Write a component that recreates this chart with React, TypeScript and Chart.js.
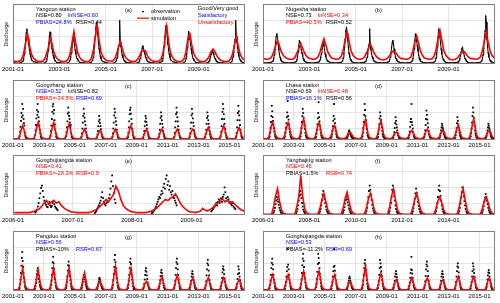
import React, { useEffect, useRef } from "react";
import { Chart, registerables } from "chart.js";
Chart.register(...registerables);

const FONT = "'Liberation Sans', Arial, sans-serif";

// observation sample positions within a year (months, 0-based)
const obsSlots = [0.5, 2.5, 4.5, 5.17, 5.5, 5.83, 6.17, 6.5, 6.83, 7.17, 7.5, 7.83, 8.17, 8.5, 8.83, 9.17, 9.5, 9.83, 10.5, 11.5];
const denseSlots = [4.0, 4.17, 4.33, 4.5, 4.67, 4.83, 5.0, 5.17, 5.33, 5.5, 5.67, 5.83, 6.0, 6.17, 6.33, 6.5, 6.67, 6.83, 7.0, 7.17, 7.33, 7.5, 7.67, 7.83, 8.0, 8.17, 8.33, 8.5, 8.67, 8.83, 9.0, 9.17, 9.33, 9.5, 9.67, 9.83];

const ticks2001to2009 = [2001, 2003, 2005, 2007, 2009];
const ticks2001to2015 = [2001, 2003, 2005, 2007, 2009, 2011, 2013, 2015];
const ticks2006to2009 = [2006, 2007, 2008, 2009];
const ticks2006to2014 = [2006, 2008, 2010, 2012, 2014];

// (a) Yangcun 2001-2010
const yangcunSim = [
  5,4,4,5,8,18,34,50,31,17,10,7,
  5,4,4,5,9,19,30,44,28,16,10,7,
  5,4,4,5,8,17,35,54,34,18,11,7,
  5,4,4,5,9,22,45,65,40,20,12,8,
  6,5,5,5,8,16,28,38,26,15,10,7,
  5,4,4,5,8,14,21,23,22,14,9,6,
  5,4,4,5,8,17,39,62,36,18,11,7,
  5,4,4,5,9,21,43,50,31,17,11,7,
  5,4,4,5,8,13,21,25,20,13,9,6,
  5,4,4,5,8,16,31,47,30,16,10,7,
];
const yangcunObs = [
  2,1,3, 5,9,16, 26,40,52, 58,50,42, 32,24,17, 12,8,6, 4,3,
  2,1,2, 4,8,13, 22,34,46, 53,42,34, 26,19,14, 10,7,5, 3,2,
  2,1,2, 4,7,12, 18,28,37, 44,38,31, 23,17,12, 9,7,5, 3,2,
  2,1,3, 6,11,19, 31,46,60, 69,62,50, 37,26,19, 13,9,6, 4,3,
  2,1,2, 4,6,10, 17,25,31, 72,36,29, 21,15,11, 8,6,4, 3,2,
  2,1,2, 3,6,9, 15,21,27, 30,25,21, 17,13,10, 7,5,4, 3,2,
  2,1,3, 5,9,16, 28,43,56, 64,57,45, 33,23,16, 11,8,6, 4,3,
  2,1,2, 5,9,16, 27,41,54, 49,41,33, 25,18,13, 9,7,5, 3,2,
  2,1,2, 3,5,8, 12,16,20, 22,19,16, 12,9,7, 5,4,3, 2,2,
  2,1,2, 4,7,12, 20,31,41, 72,46,37, 27,19,13, 9,7,5, 3,2,
];

// (b) Nugesha 2001-2010
const nugeshaSim = [
  9,8,8,9,12,20,30,39,30,20,14,11,
  9,8,8,8,11,18,26,33,26,18,13,10,
  9,8,8,9,12,20,32,42,32,20,14,10,
  9,8,8,9,13,24,40,53,38,22,15,11,
  9,8,8,9,12,18,26,33,26,18,13,10,
  8,7,7,8,10,14,19,22,19,15,11,9,
  9,8,8,9,12,22,36,47,34,21,14,10,
  9,8,8,9,13,24,42,56,40,23,15,11,
  8,7,7,8,10,14,18,22,19,14,11,9,
  9,8,8,9,12,22,38,53,36,21,14,10,
];
const nugeshaObs = [
  2,2,3, 5,9,15, 24,36,46, 50,42,34, 24,16,11, 7,5,4, 3,2,
  2,2,3, 4,7,12, 20,30,39, 36,30,24, 18,13,9, 6,5,4, 3,2,
  2,2,3, 4,7,11, 17,25,32, 36,30,24, 17,12,9, 6,5,4, 3,2,
  2,2,3, 5,10,17, 28,42,55, 61,52,40, 28,18,12, 8,6,4, 3,2,
  2,2,3, 4,7,11, 18,26,33, 58,30,24, 17,12,9, 6,5,4, 3,2,
  2,2,3, 4,7,11, 18,28,35, 39,32,25, 18,12,9, 6,5,4, 3,2,
  2,2,3, 5,9,15, 25,38,50, 46,38,30, 22,15,10, 7,5,4, 3,2,
  2,2,3, 5,10,17, 28,44,58, 54,45,35, 25,17,12, 8,6,4, 3,2,
  2,2,3, 3,6,9, 14,20,25, 28,22,18, 13,9,7, 5,4,3, 2,2,
  2,2,3, 5,9,15, 26,40,55, 80,70,42, 28,18,12, 8,6,4, 3,2,
];

// (c) Gongzhang 2001-2015
const gongzhangSim = [
  2,2,2,2,4,10,18,24,17,8,4,3,
  2,2,2,2,4,11,22,29,20,9,4,3,
  2,2,2,2,4,11,21,29,19,9,4,3,
  2,2,2,2,4,10,20,27,18,8,4,3,
  2,2,2,2,3,8,14,18,13,6,3,2,
  2,2,2,2,3,7,13,16,12,6,3,2,
  2,2,2,2,3,8,14,18,13,6,3,2,
  2,2,2,2,4,9,18,24,16,7,3,2,
  2,2,2,2,3,8,14,18,13,6,3,2,
  2,2,2,2,3,8,15,18,14,6,3,2,
  2,2,2,2,3,8,14,18,13,6,3,2,
  2,2,2,2,3,9,15,18,14,6,3,2,
  2,2,2,2,3,9,16,21,15,7,3,2,
  2,2,2,2,4,10,18,24,16,7,3,2,
  2,2,2,2,3,9,16,21,15,7,3,2,
];
const gongzhangObs = [
  1,1,2, 6,14,22, 32,45,38, 60,41,52, 35,28,24, 12,7,4, 2,1,
  1,1,2, 8,16,25, 36,50,42, 60,47,38, 31,24,17, 11,6,4, 2,1,
  1,1,2, 7,15,24, 35,47,56, 60,44,50, 33,26,17, 11,6,4, 2,1,
  1,1,2, 6,13,21, 31,44,54, 46,40,35, 29,22,25, 11,6,4, 2,1,
  1,1,2, 5,11,19, 29,40,52, 44,37,31, 25,19,13, 8,5,3, 2,1,
  1,1,2, 4,9,15, 23,31,40, 34,28,23, 18,13,9, 6,4,3, 2,1,
  1,1,2, 5,11,19, 29,41,52, 46,37,31, 25,17,12, 8,5,3, 2,1,
  1,1,2, 5,12,21, 31,43,50, 54,44,35, 27,19,13, 8,5,3, 2,1,
  1,1,2, 4,9,15, 23,31,40, 36,30,25, 19,13,9, 6,4,3, 2,1,
  1,1,2, 5,10,17, 27,37,46, 40,33,27, 21,15,10, 7,4,3, 2,1,
  1,1,2, 5,12,21, 31,43,54, 46,38,31, 23,17,11, 7,5,3, 2,1,
  1,1,2, 5,11,19, 29,41,52, 44,36,29, 23,16,10, 7,5,3, 2,1,
  1,1,2, 5,10,17, 27,37,46, 40,33,27, 21,15,10, 7,4,3, 2,1,
  1,1,2, 6,13,23, 35,47,60, 52,43,35, 27,19,12, 8,5,3, 2,1,
  1,1,2, 5,12,21, 33,45,57, 48,41,33, 25,17,11, 7,5,3, 2,1,
];

// (d) Lhasa 2001-2015
const lhasaSim = [
  3,2,2,3,5,14,24,29,20,9,5,3,
  3,2,2,3,6,15,23,29,21,10,5,3,
  3,2,2,3,6,16,28,35,24,11,5,3,
  3,2,2,3,5,14,24,29,20,9,5,3,
  3,2,2,3,5,12,20,24,17,8,4,3,
  3,2,2,3,4,8,12,13,11,6,4,3,
  3,2,2,3,5,14,27,35,22,10,5,3,
  3,2,2,3,6,15,26,32,22,10,5,3,
  3,2,2,3,4,8,12,13,11,6,4,3,
  3,2,2,3,4,9,14,16,13,7,4,3,
  3,2,2,3,4,9,15,18,14,7,4,3,
  3,2,2,3,4,9,14,16,13,7,4,3,
  3,2,2,3,5,12,20,24,17,8,4,3,
  3,2,2,3,6,15,27,35,23,10,5,3,
  3,2,2,3,4,9,14,16,13,7,4,3,
];
const lhasaObs = [
  2,1,3, 6,12,20, 30,40,57, 48,38,32, 26,20,14, 9,6,4, 3,2,
  2,1,3, 6,12,20, 28,38,46, 65,40,34, 26,19,13, 9,6,4, 3,2,
  2,1,3, 6,12,20, 30,40,52, 45,37,31, 24,18,12, 8,6,4, 3,2,
  2,1,3, 5,10,17, 26,36,45, 63,38,31, 24,17,12, 8,5,4, 3,2,
  2,1,3, 5,9,15, 23,32,40, 60,35,28, 21,15,10, 7,5,4, 3,2,
  2,1,2, 3,5,7, 10,13,16, 14,12,10, 8,6,5, 4,3,3, 2,2,
  2,1,3, 6,12,20, 30,42,60, 50,40,33, 25,18,12, 8,6,4, 3,2,
  2,1,3, 5,10,17, 26,36,46, 40,33,27, 21,15,10, 7,5,4, 3,2,
  2,1,2, 4,8,13, 20,28,38, 32,26,21, 16,12,8, 6,4,3, 2,2,
  2,1,2, 4,8,14, 22,30,35, 60,30,25, 19,13,9, 6,4,3, 2,2,
  2,1,3, 5,10,16, 25,35,49, 42,34,28, 21,15,10, 7,5,4, 3,2,
  2,1,2, 4,7,11, 16,21,27, 24,20,17, 13,10,7, 5,4,3, 2,2,
  2,1,2, 4,8,13, 20,28,38, 32,26,21, 16,12,8, 6,4,3, 2,2,
  2,1,3, 6,11,19, 29,40,54, 46,37,30, 23,16,11, 8,5,4, 3,2,
  2,1,2, 4,7,11, 16,21,27, 24,20,17, 13,10,7, 5,4,3, 2,2,
];

// (e) Gongbujiangda 2006-2009 (half-monthly simulation)
const gongbuSimE = [
  4,4,4,4,4,4,4,5,6,8,10,14,20,24,18,22,24,20,22,16,12,9,7,5,
  5,4,4,4,4,4,4,5,7,9,12,16,20,26,22,28,34,48,40,26,16,11,8,6,
  5,4,4,4,4,4,5,6,8,10,14,18,22,26,24,28,30,35,28,20,14,10,7,5,
  5,4,5,6,11,8,7,9,12,16,20,24,27,22,25,20,22,18,14,10,8,6,5,4,
];
const gongbuObsE = [
  null,null,null, 4,6,9, 14,20,28, 36,45,49, 40,30,24, 20,17,14, 13,18,22, 16,13,15, 20,24,18, 14,12,10, 8,null,null, null,null,null,
  null,null,null, 3,5,7, 10,13,16, 20,24,30, 38,28,22, 18,16,20, 24,22,28, 34,44,56, 66,48,36, 26,20,null, null,null,null, null,null,null,
  3,4,6, 8,11,14, 18,22,26, 30,28,34, 40,36,46, 52,44,60, 66,50,56, 42,48,38, 34,40,30, 28,24,20, 16,null,null, null,null,null,
  6,8,10, 12,14,17, 20,16,22, 26,20,24, 28,22,30, 34,46,38, 28,24,30, 26,20,22, 18,16,20, 14,12,10, null,null,null, null,null,null,
];

// (f) Yangbajing 2006-2015
const yangbajingSim = [
  1,1,1,1,2,14,32,44,24,9,3,2,
  1,1,1,1,2,14,30,66,32,11,4,2,
  1,1,1,1,2,12,26,36,22,9,3,2,
  1,1,1,1,2,12,28,38,22,9,3,2,
  1,1,1,1,2,12,27,36,24,9,3,2,
  1,1,1,1,2,14,32,44,26,10,3,2,
  1,1,1,1,2,12,27,36,22,9,3,2,
  1,1,1,1,2,11,24,30,20,8,3,2,
  1,1,1,1,2,14,32,44,26,10,3,2,
  1,1,1,1,2,11,24,30,20,8,3,2,
];
const yangbajingObs = [
  null,null,null, 2,4,7, 12,18,24, 30,26,22, 17,12,8, 5,3,2, null,null,
  null,null,null, 3,6,10, 16,24,32, 40,34,28, 20,14,9, 6,4,2, null,null,
  null,null,null, 3,6,10, 16,24,34, 40,32,26, 20,14,9, 6,4,2, null,null,
  null,null,null, 2,5,8, 13,19,25, 30,26,21, 16,11,8, 5,3,2, null,null,
  null,null,null, 3,7,12, 20,30,40, 49,42,34, 25,17,11, 7,4,2, null,null,
  null,null,null, 3,7,12, 20,30,42, 49,40,32, 24,16,10, 6,4,2, null,null,
  null,null,null, 3,6,11, 18,27,36, 44,37,30, 22,15,10, 6,4,2, null,null,
  null,null,null, 3,7,12, 20,30,42, 49,40,32, 24,16,10, 6,4,2, null,null,
  null,null,null, 3,7,12, 19,29,38, 46,39,31, 23,16,10, 6,4,2, null,null,
  null,null,null, 2,5,9, 15,22,29, 35,30,24, 18,12,8, 5,3,2, null,null,
];

// (g) Pangduo 2001-2015
const pangduoSim = [
  2,2,2,2,4,12,26,38,22,9,4,3,
  2,2,2,2,4,12,24,35,21,9,4,3,
  2,2,2,2,4,12,26,38,22,9,4,3,
  2,2,2,2,4,13,27,38,23,9,4,3,
  2,2,2,2,3,11,21,30,19,8,4,3,
  2,2,2,2,3,8,13,16,12,6,3,2,
  2,2,2,2,4,13,28,41,24,10,4,3,
  2,2,2,2,4,12,26,38,22,9,4,3,
  2,2,2,2,3,8,13,16,12,6,3,2,
  2,2,2,2,3,10,18,24,16,7,3,2,
  2,2,2,2,3,10,20,27,17,8,3,2,
  2,2,2,2,3,9,17,22,15,7,3,2,
  2,2,2,2,3,9,17,22,15,7,3,2,
  2,2,2,2,3,10,17,22,16,7,3,2,
  2,2,2,2,3,9,15,19,14,6,3,2,
];
const pangduoObs = [
  1,1,2, 5,11,19, 30,42,55, 65,50,40, 30,22,15, 9,6,4, 2,1,
  1,1,2, 4,8,13, 20,28,34, 38,32,26, 20,15,10, 7,5,3, 2,1,
  1,1,2, 5,10,17, 27,38,48, 57,46,37, 28,20,14, 9,6,4, 2,1,
  1,1,2, 5,9,15, 24,34,43, 49,41,33, 25,18,12, 8,5,3, 2,1,
  1,1,2, 3,6,10, 15,20,24, 27,23,19, 15,11,8, 6,4,3, 2,1,
  1,1,2, 3,5,8, 12,16,20, 22,19,16, 12,9,7, 5,4,3, 2,1,
  1,1,2, 5,10,18, 28,40,52, 60,48,38, 29,21,14, 9,6,4, 2,1,
  1,1,2, 5,10,17, 27,38,48, 54,45,36, 27,19,13, 8,5,3, 2,1,
  1,1,2, 4,7,12, 19,27,34, 38,32,26, 20,14,10, 7,5,3, 2,1,
  1,1,2, 4,7,12, 18,25,31, 35,30,25, 19,13,9, 6,4,3, 2,1,
  1,1,2, 5,10,17, 27,38,48, 54,45,36, 27,19,13, 8,5,3, 2,1,
  1,1,2, 3,6,11, 17,24,29, 33,28,23, 18,13,9, 6,4,3, 2,1,
  1,1,2, 5,9,16, 26,36,46, 52,43,34, 26,18,12, 8,5,3, 2,1,
  1,1,2, 4,8,14, 22,31,37, 41,35,28, 21,15,10, 7,5,3, 2,1,
  1,1,2, 4,7,12, 20,28,41, 36,30,24, 18,12,8, 5,3,2, 1,1,
];

// (h) Gongbujiangda 2001-2015
const gongbuSim = [
  2,2,2,2,4,11,21,27,18,8,4,3,
  2,2,2,2,4,11,20,27,19,8,4,3,
  2,2,2,2,4,12,24,33,21,9,4,3,
  2,2,2,2,4,12,25,33,22,9,4,3,
  2,2,2,2,4,11,21,27,18,8,4,3,
  2,2,2,2,3,8,13,16,12,6,3,2,
  2,2,2,2,4,13,29,41,24,10,4,3,
  2,2,2,2,4,11,22,30,19,8,4,3,
  2,2,2,2,3,9,15,19,14,6,3,2,
  2,2,2,2,3,9,17,22,15,7,3,2,
  2,2,2,2,3,9,17,22,16,7,3,2,
  2,2,2,2,3,9,15,19,14,6,3,2,
  2,2,2,2,3,10,18,24,16,7,3,2,
  2,2,2,2,3,10,19,24,17,7,3,2,
  2,2,2,2,3,9,17,22,15,7,3,2,
];
const gongbuObs = [
  1,1,2, 5,10,17, 27,38,47, 54,44,36, 27,19,13, 8,5,3, 2,1,
  1,1,2, 4,9,15, 24,33,40, 70,44,36, 27,19,13, 8,5,3, 2,1,
  1,1,2, 5,11,19, 30,43,54, 62,50,40, 30,21,14, 9,6,4, 2,1,
  1,1,2, 6,12,20, 32,45,62, 55,47,38, 29,20,13, 8,5,3, 2,1,
  1,1,2, 4,9,15, 24,33,40, 70,42,34, 26,18,12, 8,5,3, 2,1,
  1,1,2, 3,5,8, 13,17,21, 24,21,17, 13,10,7, 5,4,3, 2,1,
  1,1,2, 5,10,17, 27,38,46, 52,43,35, 26,18,12, 8,5,3, 2,1,
  1,1,2, 5,10,17, 27,38,52, 46,40,33, 25,18,12, 8,5,3, 2,1,
  1,1,2, 3,6,11, 17,24,29, 33,28,23, 18,13,9, 6,4,3, 2,1,
  1,1,2, 4,8,14, 22,30,36, 57,35,29, 22,15,10, 7,5,3, 2,1,
  1,1,2, 5,9,16, 25,36,44, 49,41,33, 25,17,11, 7,5,3, 2,1,
  1,1,2, 3,6,11, 17,24,29, 33,28,23, 18,13,9, 6,4,3, 2,1,
  1,1,2, 4,9,15, 24,33,41, 46,39,31, 23,16,11, 7,5,3, 2,1,
  1,1,2, 4,9,15, 24,33,46, 41,36,30, 23,16,11, 7,5,3, 2,1,
  1,1,2, 4,7,12, 19,26,31, 35,30,24, 18,13,9, 6,4,3, 2,1,
];

// performance statistics: [text, rating]
const statsA = [["NSE=0.80", "good"], ["lnNSE=0.60", "sat"], ["PBIAS=24.8%", "sat"], ["RSR=0.44", "good"]];
const statsB = [["NSE=0.73", "good"], ["lnNSE=0.34", "unsat"], ["PBIAS=40.5%", "unsat"], ["RSR=0.52", "good"]];
const statsC = [["NSE=0.52", "sat"], ["lnNSE=0.82", "good"], ["PBIAS=-34.5%", "unsat"], ["RSR=0.69", "sat"]];
const statsD = [["NSE=0.69", "good"], ["lnNSE=0.48", "unsat"], ["PBIAS=16.1%", "sat"], ["RSR=0.56", "good"]];
const statsE = [["NSE=0.41", "unsat"], null, ["PBIAS=-28.3%", "unsat"], ["RSR=0.9", "unsat"]];
const statsF = [["NSE=0.46", "unsat"], null, ["PBIAS=1.5%", "good"], ["RSR=0.74", "unsat"]];
const statsG = [["NSE=0.56", "sat"], null, ["PBIAS=-10%", "good"], ["RSR=0.67", "sat"]];
const statsH = [["NSE=0.53", "sat"], null, ["PBIAS=-11.2%", "good"], ["RSR=0.69", "sat"]];

const ratingLabels = [["Good/Very good", "good"], ["Satisfactory", "sat"], ["Unsatisfactory", "unsat"]];
const ratingColor: Record<string, string> = { good: "#000000", sat: "#0000ff", unsat: "#ff0000" };

const yGrid = [20, 46.5, 73];

type Panel = {
  letter: string; station: string; stats: any[]; sim: number[]; simPerYear: number;
  obs: (number | null)[]; slots: number[]; start: number; end: number; ticks: number[];
  obsLine: boolean; legend: boolean;
};

const panels: Panel[] = [
  { letter: "(a)", station: "Yangcun station", stats: statsA, sim: yangcunSim, simPerYear: 12, obs: yangcunObs, slots: obsSlots, start: 2001, end: 2011, ticks: ticks2001to2009, obsLine: true, legend: true },
  { letter: "(b)", station: "Nugesha station", stats: statsB, sim: nugeshaSim, simPerYear: 12, obs: nugeshaObs, slots: obsSlots, start: 2001, end: 2011, ticks: ticks2001to2009, obsLine: true, legend: false },
  { letter: "(c)", station: "Gongzhang station", stats: statsC, sim: gongzhangSim, simPerYear: 12, obs: gongzhangObs, slots: obsSlots, start: 2001, end: 2016, ticks: ticks2001to2015, obsLine: false, legend: false },
  { letter: "(d)", station: "Lhasa station", stats: statsD, sim: lhasaSim, simPerYear: 12, obs: lhasaObs, slots: obsSlots, start: 2001, end: 2016, ticks: ticks2001to2015, obsLine: false, legend: false },
  { letter: "(e)", station: "Gongbujiangda station", stats: statsE, sim: gongbuSimE, simPerYear: 24, obs: gongbuObsE, slots: denseSlots, start: 2006, end: 2009.9, ticks: ticks2006to2009, obsLine: false, legend: false },
  { letter: "(f)", station: "Yangbajing station", stats: statsF, sim: yangbajingSim, simPerYear: 12, obs: yangbajingObs, slots: obsSlots, start: 2006, end: 2016, ticks: ticks2006to2014, obsLine: false, legend: false },
  { letter: "(g)", station: "Pangduo station", stats: statsG, sim: pangduoSim, simPerYear: 12, obs: pangduoObs, slots: obsSlots, start: 2001, end: 2016, ticks: ticks2001to2015, obsLine: false, legend: false },
  { letter: "(h)", station: "Gongbujiangda station", stats: statsH, sim: gongbuSim, simPerYear: 12, obs: gongbuObs, slots: obsSlots, start: 2001, end: 2016, ticks: ticks2001to2015, obsLine: false, legend: false },
];

const rowTops = [0, 76, 151, 227];

function overlayPlugin(p: Panel) {
  return {
    id: "overlay",
    afterDraw(chart: any) {
      const { ctx, chartArea: a } = chart;
      ctx.save();
      ctx.strokeStyle = "#808080";
      ctx.lineWidth = 1;
      ctx.strokeRect(Math.round(a.left) + 0.5, Math.round(a.top) + 0.5, Math.round(a.right - a.left) - 1, Math.round(a.bottom - a.top) - 1);
      ctx.font = `5.6px ${FONT}`;
      ctx.textBaseline = "middle";
      ctx.textAlign = "left";
      ctx.fillStyle = "#000";
      ctx.fillText(p.station, 36, 9);
      const pos = [[36, 15.7], [68, 15.7], [36, 22.3], [76, 22.3]];
      p.stats.forEach((s: any, i: number) => {
        if (!s) return;
        ctx.fillStyle = ratingColor[s[1]];
        ctx.fillText(s[0], pos[i][0], pos[i][1]);
      });
      ctx.fillStyle = "#000";
      ctx.fillText(p.letter, 125, 10.7);
      if (p.legend) {
        ctx.fillStyle = "#000";
        ctx.fillRect(142, 11, 2, 1.2);
        ctx.fillText("observation", 151, 11.5);
        ctx.strokeStyle = "#ff0000";
        ctx.lineWidth = 1.2;
        ctx.beginPath();
        ctx.moveTo(137, 18.2);
        ctx.lineTo(149, 18.2);
        ctx.stroke();
        ctx.fillText("simulation", 151, 18.2);
        ratingLabels.forEach((r, i) => {
          ctx.fillStyle = ratingColor[r[1]];
          ctx.fillText(r[0], 198, 8.6 + i * 6.9);
        });
      }
      ctx.restore();
    },
  };
}

function PanelChart({ p, idx }: { p: Panel; idx: number }) {
  const ref = useRef<HTMLCanvasElement>(null);
  useEffect(() => {
    const simData = p.sim.map((v, i) => ({
      x: p.start + Math.floor(i / p.simPerYear) + ((i % p.simPerYear) + 0.5) / p.simPerYear,
      y: v,
    }));
    const n = p.slots.length;
    const obsData = p.obs.map((v, i) => ({
      x: p.start + Math.floor(i / n) + p.slots[i % n] / 12,
      y: v,
    }));
    const chart = new Chart(ref.current as HTMLCanvasElement, {
      type: "scatter",
      data: {
        datasets: [
          {
            label: "simulation",
            data: simData,
            showLine: true,
            borderColor: "#ff0000",
            borderWidth: 1.6,
            pointRadius: 0,
            tension: 0,
          } as any,
          {
            label: "observation",
            data: obsData,
            showLine: p.obsLine,
            spanGaps: false,
            borderColor: "#000000",
            borderWidth: 1,
            backgroundColor: "#000000",
            pointRadius: p.obsLine ? 0.9 : 1.25,
            pointBorderWidth: 0,
            pointStyle: "rect",
          } as any,
        ],
      },
      options: {
        animation: false,
        responsive: false,
        devicePixelRatio: 1,
        layout: { padding: { top: 3, right: 5, bottom: 0, left: 0 } },
        plugins: { legend: { display: false }, tooltip: { enabled: false } },
        scales: {
          x: {
            type: "linear",
            min: p.start,
            max: p.end,
            afterBuildTicks: (s: any) => { s.ticks = p.ticks.map((v) => ({ value: v })); },
            afterFit: (s: any) => { s.height = 12; },
            ticks: {
              autoSkip: false,
              maxRotation: 0,
              padding: 2,
              color: "#000",
              font: { family: FONT, size: 6 },
              callback: (v: any) => `${v}-01`,
            },
            grid: { color: "#e4e4e4", drawTicks: false },
            border: { display: false },
          },
          y: {
            min: 0,
            max: 100,
            afterBuildTicks: (s: any) => { s.ticks = yGrid.map((v) => ({ value: v })); },
            afterFit: (s: any) => { s.width = 13; },
            ticks: { display: false },
            grid: { color: "#e4e4e4", drawTicks: false },
            border: { display: false },
            title: { display: true, text: "Discharge", color: "#222", font: { family: FONT, size: 5.5 }, padding: { top: 3, bottom: 0 } },
          },
        },
      } as any,
      plugins: [overlayPlugin(p)],
    });
    return () => chart.destroy();
  }, []);
  const col = idx % 2;
  const row = Math.floor(idx / 2);
  return (
    <div style={{ position: "absolute", left: col * 250, top: rowTops[row], width: 250, height: 76 }}>
      <canvas ref={ref} width={250} height={76} style={{ display: "block", width: 250, height: 76 }} />
    </div>
  );
}

export default function App() {
  useEffect(() => {
    document.body.style.margin = "0";
  }, []);
  return (
    <div style={{ position: "relative", width: 500, height: 303, background: "#fff", overflow: "hidden" }}>
      {panels.map((p, i) => (
        <PanelChart key={i} p={p} idx={i} />
      ))}
    </div>
  );
}
